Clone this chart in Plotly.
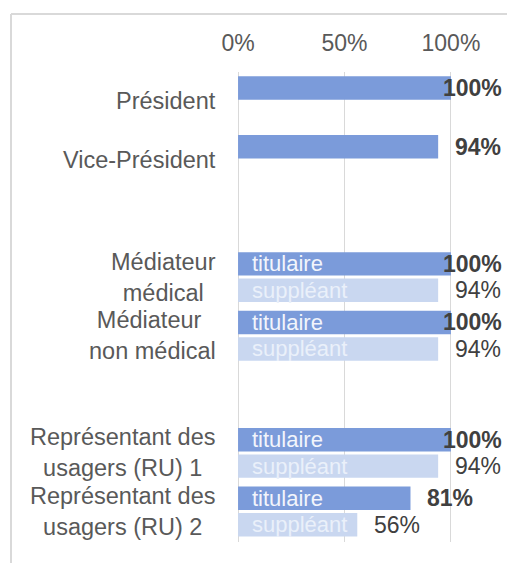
import plotly.graph_objects as go

# ---- data ----
category_ids = ["pres", "vice", "gap1", "med1", "med2", "gap2", "ru1", "ru2"]
category_labels = ["Président", "Vice-Président", "", "Médiateur<br>médical",
                   "Médiateur <br>non médical", "", "Représentant des<br>usagers (RU) 1",
                   "Représentant des<br>usagers (RU) 2"]
titulaire = [1.00, 0.94, None, 1.00, 1.00, None, 1.00, 0.81]
suppleant = [None, None, None, 0.94, 0.94, None, 0.94, 0.56]
series_names = ["titulaire", "suppléant"]
x_ticks = [0, 0.5, 1.0]
x_tick_labels = ["0%", "50%", "100%"]

# ---- style ----
W, H = 507, 563
M = dict(l=237, r=55, t=72, b=21)
XR = [-0.005, 1.005]
FONT = "Liberation Sans, Arial, sans-serif"
C_TIT = "#7b9bda"
C_SUP = "#c9d7f0"
C_TXT = "#595959"
C_VAL = "#404040"
BARGAP = 0.098
GROUPGAP = 0.113

fig = go.Figure()
fig.add_trace(go.Bar(y=category_ids, x=titulaire, orientation="h", name=series_names[0],
                     marker=dict(color=C_TIT, line=dict(width=0)), hoverinfo="skip"))
fig.add_trace(go.Bar(y=category_ids, x=suppleant, orientation="h", name=series_names[1],
                     marker=dict(color=C_SUP, line=dict(width=0)), hoverinfo="skip"))

plot_h = H - M["t"] - M["b"]
plot_w = W - M["l"] - M["r"]
pitch = plot_h / len(category_ids)
slot = pitch * (1 - BARGAP) / 4.0  # offset of each bar centre from category centre

ann = []
for cid, lab in zip(category_ids, category_labels):
    if lab:
        ann.append(dict(x=0, xref="x", y=cid, yref="y", text=lab, xanchor="right",
                        xshift=-20, align="center", showarrow=False,
                        font=dict(family=FONT, size=23.5, color=C_TXT)))

for vals, shift, bold, inner_col, sname in [
        (titulaire, -slot, True, "#f2f5fc", series_names[0]),
        (suppleant, slot, False, "#eaf0fa", series_names[1])]:
    for cid, v in zip(category_ids, vals):
        if v is None:
            continue
        txt = f"{round(v*100)}%"
        if bold:
            txt = f"<b>{txt}</b>"
        if v >= 0.97:
            a = dict(x=1.0, xanchor="right", xshift=53)
        else:
            a = dict(x=v, xanchor="left", xshift=15)
        ann.append(dict(**a, y=cid, yref="y", xref="x", yshift=-shift, text=txt,
                        showarrow=False, font=dict(family=FONT, size=23, color=C_VAL)))
        if cid not in ("pres", "vice"):
            ann.append(dict(x=0, xref="x", xanchor="left", xshift=12, y=cid, yref="y",
                            yshift=-shift, text=sname, showarrow=False,
                            font=dict(family=FONT, size=22, color=inner_col)))

fx = (11 - M["l"]) / plot_w
fy = (H - M["b"] - 14) / plot_h

fig.update_layout(
    width=W, height=H, margin=M,
    barmode="group", bargap=BARGAP, bargroupgap=GROUPGAP,
    plot_bgcolor="white", paper_bgcolor="white",
    showlegend=False,
    font=dict(family=FONT, size=23, color=C_TXT),
    xaxis=dict(side="top", range=XR, tickvals=x_ticks, ticktext=x_tick_labels,
               showgrid=True, gridcolor="#d9d9d9", gridwidth=1, zeroline=False,
               showline=False, ticks="", ticklabelstandoff=15,
               tickfont=dict(family=FONT, size=23, color=C_TXT), fixedrange=True),
    yaxis=dict(type="category", categoryorder="array", categoryarray=category_ids,
               autorange="reversed", showticklabels=False, showgrid=False,
               zeroline=False, ticks="", fixedrange=True),
    annotations=ann,
    shapes=[
        dict(type="line", xref="paper", yref="paper", x0=fx, x1=fx,
             y0=fy, y1=-M["b"] / plot_h - 0.05,
             line=dict(color="#d9d9d9", width=2)),
        dict(type="line", xref="paper", yref="paper",
             x0=fx, x1=1 + M["r"] / plot_w + 0.05, y0=fy, y1=fy,
             line=dict(color="#d9d9d9", width=2)),
    ],
)

fig.write_html("out.html", config={"displayModeBar": False},
               post_script="document.body.style.margin='0';document.body.style.overflow='hidden';")
